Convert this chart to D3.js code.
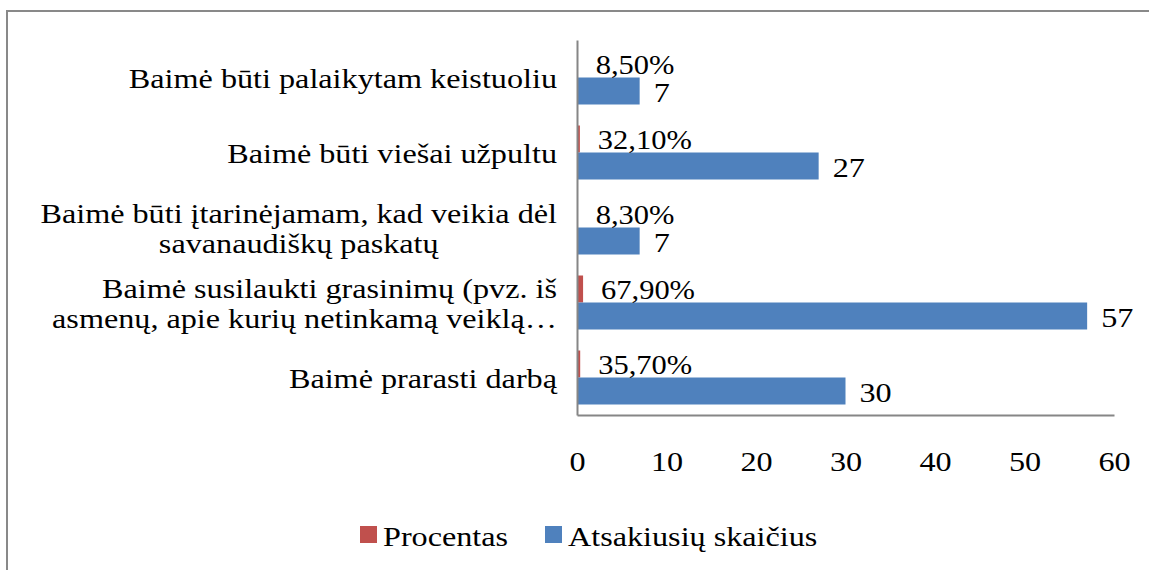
<!DOCTYPE html>
<html><head><meta charset="utf-8">
<script src="https://cdn.jsdelivr.net/npm/d3@7"></script>
<style>
html,body{margin:0;padding:0;background:#fff;}
svg{display:block;}
text{font-family:"Liberation Serif","Times New Roman",serif;fill:#000;}
</style></head>
<body>
<script>
const categories = ["Baimė būti palaikytam keistuoliu","Baimė būti viešai užpultu","Baimė būti įtarinėjamam, kad veikia dėl savanaudiškų paskatų","Baimė susilaukti grasinimų (pvz. iš asmenų, apie kurių netinkamą veiklą…","Baimė prarasti darbą"];
const categoryLines = [["Baimė būti palaikytam keistuoliu"],["Baimė būti viešai užpultu"],["Baimė būti įtarinėjamam, kad veikia dėl","savanaudiškų paskatų"],["Baimė susilaukti grasinimų (pvz. iš","asmenų, apie kurių netinkamą veiklą…"],["Baimė prarasti darbą"]];
const seriesNames = ["Procentas","Atsakiusių skaičius"];
const procentas = [0.085,0.321,0.083,0.679,0.357];
const atsakiusiu = [7,27,7,57,30];
const xTicks = [0,10,20,30,40,50,60];

const W=1149,H=570;
const SX=1.15;
const colors=["#C0504D","#4F81BD"];
const svg=d3.select("body").append("svg").attr("width",W).attr("height",H);
svg.append("rect").attr("x",7).attr("y",11).attr("width",W+10).attr("height",H+10)
  .attr("fill","#fff").attr("stroke","#898989").attr("stroke-width",2);

const x=d3.scaleLinear().domain([0,60]).range([577,1114]);
const y=d3.scaleBand().domain(categories).range([40,415]).paddingInner(0.28).paddingOuter(0.14);
const yi=d3.scaleBand().domain(seriesNames).range([0,y.bandwidth()]);
const FS=28;

function stxt(parent,px,py,str,fs,anchor){
  return parent.append("text").attr("transform",`translate(${px},${py}) scale(${SX},1)`)
    .attr("text-anchor",anchor||"start").attr("dy","0.36em").attr("font-size",fs).text(str);
}

const data=categories.map((c,i)=>({c,i,vals:[procentas[i],atsakiusiu[i]]}));
const g=svg.append("g");
data.forEach(d=>{
  d.vals.forEach((v,k)=>{
    g.append("rect").attr("x",x(0)).attr("y",y(d.c)+yi(seriesNames[k]))
      .attr("width",x(v)-x(0)).attr("height",yi.bandwidth()).attr("fill",colors[k]);
  });
});
// data labels
const fmtPct=v=>d3.format(".2f")(v*100).replace(".",",")+"%";
data.forEach(d=>{
  stxt(g,x(d.vals[0])+18,y(d.c)+yi(seriesNames[0])+yi.bandwidth()/2,fmtPct(d.vals[0]),26.5);
  stxt(g,x(d.vals[1])+14,y(d.c)+yi(seriesNames[1])+yi.bandwidth()/2+1,d3.format("d")(d.vals[1]),FS);
});
// axes
const xa=svg.append("g").attr("transform","translate(0,415)")
  .call(d3.axisBottom(x).tickValues(xTicks).tickSize(0).tickSizeOuter(0).tickPadding(36));
xa.select(".domain").attr("stroke","#868686").attr("stroke-width",2);
xa.selectAll("text").attr("font-size",FS).attr("font-family","Liberation Serif").attr("fill","#000")
  .attr("transform",`scale(${SX},1)`);
const ya=svg.append("g").attr("transform","translate(577,0)")
  .call(d3.axisLeft(y).tickSize(0).tickSizeOuter(0).tickFormat(""));
ya.select(".domain").attr("stroke","#868686").attr("stroke-width",2);
// category labels
const RIGHT=557, LH=30;
data.forEach(d=>{
  const lines=categoryLines[d.i];
  const cy=y(d.c)+y.bandwidth()/2;
  const items=lines.map((l,j)=>{
    const t=stxt(g,0,cy+(j-(lines.length-1)/2)*LH,l,FS,"start");
    return {t,w:t.node().getComputedTextLength()*SX,l};
  });
  const maxW=d3.max(items,e=>e.w);
  const truncated=lines.some(l=>l.endsWith("…"));
  items.forEach((e,j)=>{
    const left=truncated?RIGHT-e.w:RIGHT-maxW/2-e.w/2;
    e.t.attr("transform",`translate(${left},${cy+(j-(lines.length-1)/2)*LH}) scale(${SX},1)`);
  });
});
// legend
const lg=svg.append("g");
const lx=[360,545];
seriesNames.forEach((s,k)=>{
  lg.append("rect").attr("x",lx[k]).attr("y",526).attr("width",17).attr("height",17).attr("fill",colors[k]);
  stxt(lg,lx[k]+23,536,s,FS);
});
</script>
</body></html>
